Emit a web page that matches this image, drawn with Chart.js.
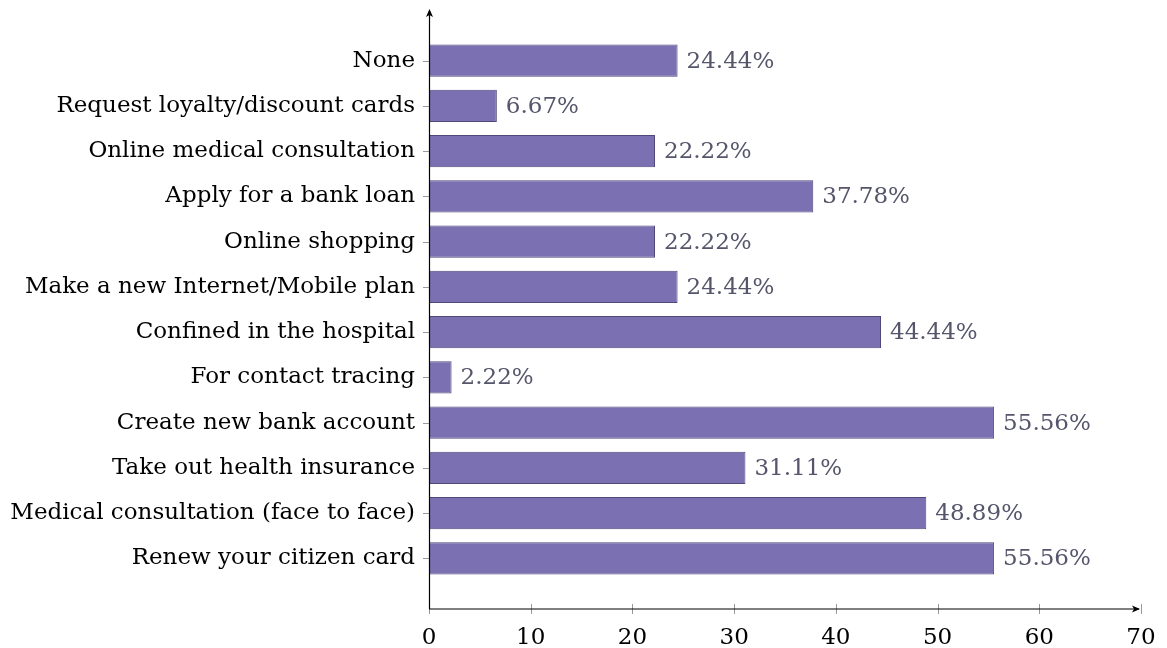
<!DOCTYPE html>
<html>
<head>
<meta charset="utf-8">
<script src="https://cdn.jsdelivr.net/npm/chart.js@4.4.0/dist/chart.umd.min.js"></script>
<style>
  html, body { margin: 0; padding: 0; background: #fff; }
  #wrap { width: 1167px; height: 648px; }
</style>
</head>
<body>
<div id="wrap"><canvas id="myChart"></canvas></div>
<script>
const categories = [
    'None',
    'Request loyalty/discount cards',
    'Online medical consultation',
    'Apply for a bank loan',
    'Online shopping',
    'Make a new Internet/Mobile plan',
    'Confined in the hospital',
    'For contact tracing',
    'Create new bank account',
    'Take out health insurance',
    'Medical consultation (face to face)',
    'Renew your citizen card'
];
const percentages = [24.44, 6.67, 22.22, 37.78, 22.22, 24.44, 44.44, 2.22, 55.56, 31.11, 48.89, 55.56];
const xTicks = [0, 10, 20, 30, 40, 50, 60, 70];

const fontFamily = '"DejaVu Serif", "Liberation Serif", serif';
const fontSize = 23;

// axis lines, arrows, tick marks and value labels drawn pgfplots-style
const axesPlugin = {
    id: 'axesPlugin',
    afterDatasetsDraw(chart) {
        const c = chart.ctx;
        const xs = chart.scales.x;
        const ys = chart.scales.y;
        const x0 = xs.getPixelForValue(0);
        const xEnd = xs.getPixelForValue(70);
        const yAxisTop = 9;
        const xAxisY = 609;

        c.save();
        // tick marks
        c.strokeStyle = '#999';
        c.lineWidth = 1;
        c.beginPath();
        categories.forEach((_, i) => {
            const y = Math.round(ys.getPixelForValue(i)) + 0.5;
            c.moveTo(x0 - 6, y);
            c.lineTo(x0, y);
        });
        xTicks.forEach(t => {
            const x = Math.round(xs.getPixelForValue(t)) + 0.5;
            c.moveTo(x, xAxisY - (t === 0 ? 0 : 5));
            c.lineTo(x, xAxisY + 5);
        });
        c.stroke();

        // axis lines
        c.strokeStyle = '#000';
        c.lineWidth = 1.2;
        c.beginPath();
        c.moveTo(Math.round(x0) + 0.5, xAxisY);
        c.lineTo(Math.round(x0) + 0.5, yAxisTop + 2);
        c.moveTo(x0, xAxisY);
        c.lineTo(xEnd - 2, xAxisY);
        c.stroke();

        // arrow heads
        c.fillStyle = '#000';
        c.beginPath();
        const ax = Math.round(x0) + 0.5;
        c.moveTo(ax, yAxisTop);
        c.lineTo(ax - 3.5, yAxisTop + 8);
        c.lineTo(ax, yAxisTop + 6);
        c.lineTo(ax + 3.5, yAxisTop + 8);
        c.closePath();
        c.fill();
        c.beginPath();
        c.moveTo(xEnd - 1, xAxisY);
        c.lineTo(xEnd - 9, xAxisY - 3.5);
        c.lineTo(xEnd - 7, xAxisY);
        c.lineTo(xEnd - 9, xAxisY + 3.5);
        c.closePath();
        c.fill();

        // value labels
        c.fillStyle = '#55556b';
        c.font = fontSize + 'px ' + fontFamily;
        c.textBaseline = 'middle';
        c.textAlign = 'left';
        const meta = chart.getDatasetMeta(0);
        meta.data.forEach((bar, i) => {
            c.fillText(percentages[i].toFixed(2) + '%', bar.x + 9, bar.y + 1);
        });
        c.restore();
    }
};

const ctx = document.getElementById('myChart');
const myChart = new Chart(ctx, {
    type: 'bar',
    data: {
        labels: categories,
        datasets: [{
            data: percentages,
            backgroundColor: '#7a70b2',
            borderColor: '#4f4878',
            borderWidth: 1,
            borderSkipped: false,
            barPercentage: 0.71,
            categoryPercentage: 1
        }]
    },
    options: {
        indexAxis: 'y',
        responsive: true,
        maintainAspectRatio: false,
        animation: false,
        layout: {
            padding: { top: 38, right: 26, left: 0, bottom: 0 }
        },
        plugins: {
            legend: { display: false },
            tooltip: { enabled: false }
        },
        scales: {
            x: {
                min: 0,
                max: 70,
                afterFit(scale) {
                    scale.height = 67;
                    scale.paddingLeft = 0;
                    scale.paddingRight = 0;
                },
                afterBuildTicks(scale) {
                    scale.ticks = xTicks.map(v => ({ value: v }));
                },
                grid: { display: false, drawTicks: false },
                border: { display: false },
                ticks: {
                    color: '#000',
                    padding: 43,
                    maxRotation: 0,
                    font: { family: fontFamily, size: fontSize }
                }
            },
            y: {
                afterFit(scale) { scale.width = 429; },
                grid: { display: false, drawTicks: false },
                border: { display: false },
                ticks: {
                    color: '#000',
                    padding: 14,
                    autoSkip: false,
                    font: { family: fontFamily, size: fontSize }
                }
            }
        }
    },
    plugins: [axesPlugin]
});
</script>
</body>
</html>
